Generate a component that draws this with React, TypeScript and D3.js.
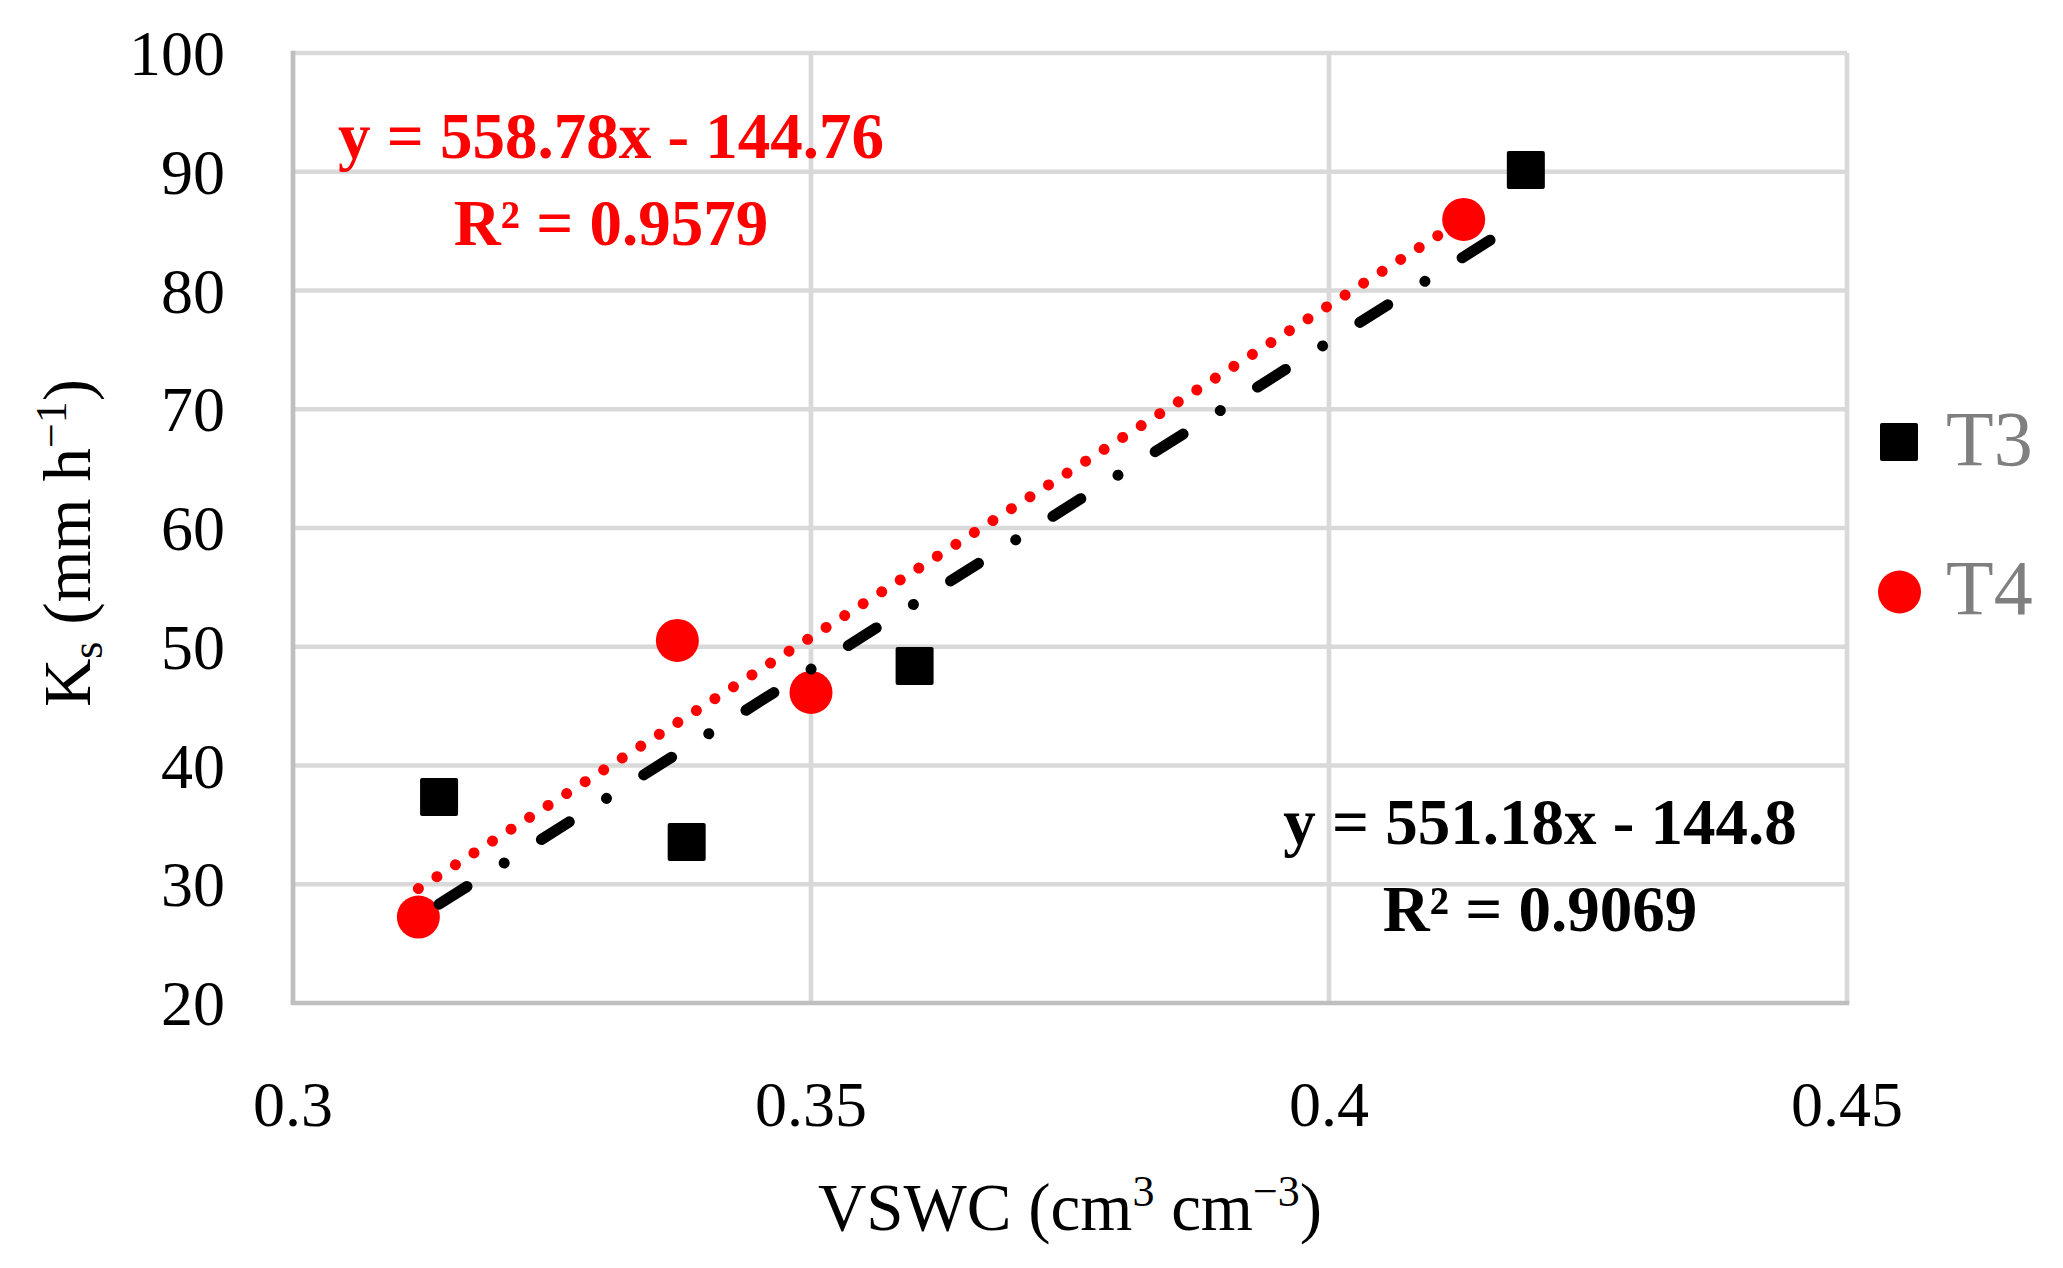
import * as d3 from "d3"
import { useRef, useEffect } from "react"

const t3Vswc = [0.3141, 0.338, 0.36, 0.419]
const t3Ks = [37.35, 33.56, 48.38, 90.15]
const t4Vswc = [0.3121, 0.3371, 0.35, 0.413]
const t4Ks = [27.24, 50.53, 46.15, 85.98]

// trendline coefficients [slope, intercept] as printed on the chart
const t3Trend = [551.18, -144.8]
const t4Trend = [558.78, -144.76]
const t3Labels = ["y = 551.18x - 144.8", "R² = 0.9069"]
const t4Labels = ["y = 558.78x - 144.76", "R² = 0.9579"]

const seriesNames = ["T3", "T4"]
const xTicks = [0.3, 0.35, 0.4, 0.45]
const xTickLabels = ["0.3", "0.35", "0.4", "0.45"]
const yTicks = [20, 30, 40, 50, 60, 70, 80, 90, 100]

const W = 2063
const H = 1268
const FONT = "'Liberation Serif', 'Times New Roman', serif"

export default function App() {
  const svgRef = useRef<SVGSVGElement>(null)

  useEffect(() => {
    if (!svgRef.current) return
    const svg = d3.select(svgRef.current)
    svg.selectAll("*").remove()

    const x = d3.scaleLinear().domain([0.3, 0.45]).range([293, 1847])
    const y = d3.scaleLinear().domain([20, 100]).range([1003, 53])

    const grid = svg.append("g")
    grid
      .selectAll("line.h")
      .data(yTicks.slice(1))
      .enter()
      .append("line")
      .attr("x1", x(0.3))
      .attr("x2", x(0.45))
      .attr("y1", (d) => y(d))
      .attr("y2", (d) => y(d))
      .attr("stroke", "#d9d9d9")
      .attr("stroke-width", 4.7)
    grid
      .selectAll("line.v")
      .data(xTicks.slice(1))
      .enter()
      .append("line")
      .attr("x1", (d) => x(d))
      .attr("x2", (d) => x(d))
      .attr("y1", y(20))
      .attr("y2", y(100))
      .attr("stroke", "#d9d9d9")
      .attr("stroke-width", 4.7)

    // axis lines
    svg
      .append("line")
      .attr("x1", x(0.3))
      .attr("x2", x(0.3))
      .attr("y1", y(100) - 2.3)
      .attr("y2", y(20))
      .attr("stroke", "#bfbfbf")
      .attr("stroke-width", 4.7)
    svg
      .append("line")
      .attr("x1", x(0.3) - 2.3)
      .attr("x2", x(0.45) + 2.3)
      .attr("y1", y(20))
      .attr("y2", y(20))
      .attr("stroke", "#bfbfbf")
      .attr("stroke-width", 4.7)

    // tick labels
    svg
      .selectAll("text.ytick")
      .data(yTicks)
      .enter()
      .append("text")
      .attr("x", 225)
      .attr("y", (d) => y(d) + 22)
      .attr("text-anchor", "end")
      .style("font-family", FONT)
      .style("font-size", "64px")
      .attr("fill", "#000")
      .text((d) => d)
    svg
      .selectAll("text.xtick")
      .data(xTicks)
      .enter()
      .append("text")
      .attr("x", (d) => x(d))
      .attr("y", 1126)
      .attr("text-anchor", "middle")
      .style("font-family", FONT)
      .style("font-size", "64px")
      .attr("fill", "#000")
      .text((d, i) => xTickLabels[i])

    // axis titles
    const xt = svg
      .append("text")
      .attr("x", (x(0.3) + x(0.45)) / 2)
      .attr("y", 1230)
      .attr("text-anchor", "middle")
      .style("font-family", FONT)
      .style("font-size", "67px")
      .attr("fill", "#000")
    xt.append("tspan").text("VSWC (cm")
    xt.append("tspan").attr("dy", -24).style("font-size", "44px").text("3")
    xt.append("tspan").attr("dy", 24).text(" cm")
    xt.append("tspan").attr("dy", -24).style("font-size", "44px").text("−3")
    xt.append("tspan").attr("dy", 24).text(")")

    const yt = svg
      .append("text")
      .attr("transform", "translate(90,543) rotate(-90)")
      .attr("text-anchor", "middle")
      .style("font-family", FONT)
      .style("font-size", "67px")
      .attr("fill", "#000")
    yt.append("tspan").text("K")
    yt.append("tspan").attr("dy", 12).style("font-size", "44px").text("s")
    yt.append("tspan").attr("dy", -12).text(" (mm h")
    yt.append("tspan").attr("dy", -24).style("font-size", "44px").text("−1")
    yt.append("tspan").attr("dy", 24).text(")")

    // markers
    const t3 = t3Vswc.map((v, i) => [v, t3Ks[i]])
    const t4 = t4Vswc.map((v, i) => [v, t4Ks[i]])
    svg
      .selectAll("rect.t3")
      .data(t3)
      .enter()
      .append("rect")
      .attr("x", (d) => x(d[0]) - 19)
      .attr("y", (d) => y(d[1]) - 19)
      .attr("width", 38)
      .attr("height", 38)
      .attr("rx", 2)
      .attr("fill", "#000")
    svg
      .selectAll("circle.t4")
      .data(t4)
      .enter()
      .append("circle")
      .attr("cx", (d) => x(d[0]))
      .attr("cy", (d) => y(d[1]))
      .attr("r", 21.5)
      .attr("fill", "#ff0000")

    // trendlines, drawn over the markers like Excel does
    const trend = (xs: number[], coef: number[]) =>
      d3.extent(xs).map((v) => [x(v as number), y(coef[0] * (v as number) + coef[1])] as [number, number])
    svg
      .append("path")
      .attr("d", d3.line()(trend(t3Vswc, t3Trend)) || "")
      .attr("fill", "none")
      .attr("stroke", "#000")
      .attr("stroke-width", 11)
      .attr("stroke-linecap", "round")
      .attr("stroke-dasharray", "33 44 0.01 44")
    svg
      .append("path")
      .attr("d", d3.line()(trend(t4Vswc, t4Trend)) || "")
      .attr("fill", "none")
      .attr("stroke", "#ff0000")
      .attr("stroke-width", 11)
      .attr("stroke-linecap", "round")
      .attr("stroke-dasharray", "0.01 22")

    // equations
    const eq = (labels: string[], cx: number, y0: number, color: string) => {
      svg
        .selectAll(null)
        .data(labels)
        .enter()
        .append("text")
        .attr("x", cx)
        .attr("y", (d, i) => y0 + i * 87)
        .attr("text-anchor", "middle")
        .style("font-family", FONT)
        .style("font-size", "65px")
        .style("font-weight", "700")
        .attr("fill", color)
        .text((d) => d)
    }
    eq(t4Labels, 611, 158, "#ff0000")
    eq(t3Labels, 1540, 844, "#000")

    // legend
    const lg = svg.append("g")
    lg.append("rect").attr("x", 1880).attr("y", 423).attr("width", 38).attr("height", 38).attr("rx", 2).attr("fill", "#000")
    lg.append("circle").attr("cx", 1899.5).attr("cy", 592).attr("r", 21.5).attr("fill", "#ff0000")
    lg.selectAll("text")
      .data(seriesNames)
      .enter()
      .append("text")
      .attr("x", 1946)
      .attr("y", (d, i) => 465 + i * 149)
      .style("font-family", FONT)
      .style("font-size", "78px")
      .attr("fill", "#7f7f7f")
      .text((d) => d)
  }, [])

  return (
    <svg
      ref={svgRef}
      width={W}
      height={H}
      viewBox={`0 0 ${W} ${H}`}
      style={{ position: "absolute", left: 0, top: 0, background: "#fff" }}
    ></svg>
  )
}
